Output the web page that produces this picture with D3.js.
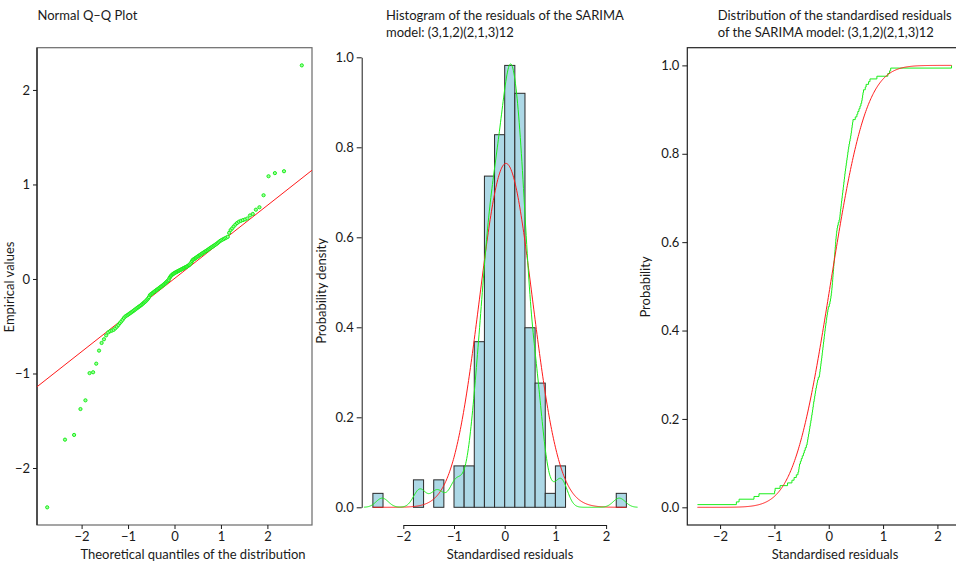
<!DOCTYPE html>
<html><head><meta charset="utf-8">
<script src="https://cdn.jsdelivr.net/npm/d3@7"></script>
<style>
body{margin:0;background:#fff}
text{font-family:Lato, "Liberation Sans", sans-serif;fill:#1a1a1a}
</style>
</head><body>
<svg id="chart" width="956" height="564"></svg>
<script>
// ---------- data ----------
// sorted standardised residuals of the SARIMA model (n = 163)
const residuals = [
-2.416,-1.700,-1.650,-1.376,-1.284,-0.996,-0.987,-0.896,-0.758,-0.677,-0.638,
-0.597,-0.566,-0.553,-0.546,-0.538,-0.522,-0.505,-0.487,-0.466,-0.450,-0.432,-0.412,
-0.398,-0.389,-0.381,-0.372,-0.363,-0.355,-0.347,-0.339,-0.330,-0.322,-0.314,-0.306,
-0.298,-0.291,-0.284,-0.277,-0.268,-0.260,-0.252,-0.244,-0.236,-0.226,-0.216,-0.206,
-0.192,-0.172,-0.165,-0.158,-0.152,-0.145,-0.139,-0.132,-0.126,-0.120,-0.114,-0.108,
-0.102,-0.096,-0.090,-0.084,-0.078,-0.072,-0.066,-0.060,-0.053,-0.046,-0.039,-0.032,-0.024,-0.016,-0.008,
0.010,0.022,0.032,0.040,0.047,0.053,0.058,0.063,0.067,0.071,0.075,0.079,0.083,0.087,0.091,0.095,
0.099,0.103,0.107,0.111,0.115,0.119,0.123,0.127,0.131,0.136,0.141,0.147,0.154,0.163,0.175,0.190,
0.202,0.207,0.212,0.218,0.224,0.230,0.236,0.242,0.248,0.254,0.260,0.266,0.272,0.278,0.284,
0.290,0.296,0.302,0.309,0.316,0.323,0.330,0.337,0.344,0.351,0.358,0.366,0.374,0.383,0.393,
0.403,0.410,0.417,0.424,0.431,0.438,0.446,0.488,0.518,0.535,0.556,0.575,0.592,
0.606,0.615,0.623,0.630,0.640,0.672,0.688,0.733,0.759,
0.886,1.087,1.120,1.140,2.260
];
// histogram: bins of width 0.2 starting at -2.6, probability density per bin
const histBinStart = -2.6;
const histBinWidth = 0.2;
const histDensity = [0.031,0,0,0,0.061,0,0.061,0,0.092,0.092,0.368,0.736,0.828,0.982,0.920,0.399,0.276,0.031,0.092,0,0,0,0,0,0.031];
// fitted normal distribution
const normalMean = 0.025;
const normalSd = 0.522;
// reference line of the Q-Q plot
const qqIntercept = 0.005;
const qqSlope = 0.387;
// kernel density bandwidth
const kdeBandwidth = 0.12;
// tick values
const qqXTicks = [-2,-1,0,1,2];
const qqYTicks = [-2,-1,0,1,2];
const histXTicks = [-2,-1,0,1,2];
const histYTicks = [0,0.2,0.4,0.6,0.8,1.0];
const ecdfXTicks = [-2,-1,0,1,2];
const ecdfYTicks = [0,0.2,0.4,0.6,0.8,1.0];
// texts
const titleQQ = ["Normal Q\u2013Q Plot"];
const titleHist = ["Histogram of the residuals of the SARIMA","model: (3,1,2)(2,1,3)12"];
const titleEcdf = ["Distribution of the standardised residuals","of the SARIMA model: (3,1,2)(2,1,3)12"];

// ---------- helpers ----------
function qnorm(p){
  const a=[-3.969683028665376e+01,2.209460984245205e+02,-2.759285104469687e+02,1.383577518672690e+02,-3.066479806614716e+01,2.506628277459239e+00];
  const b=[-5.447609879822406e+01,1.615858368580409e+02,-1.556989798598866e+02,6.680131188771972e+01,-1.328068155288572e+01];
  const c=[-7.784894002430293e-03,-3.223964580411365e-01,-2.400758277161838e+00,-2.549732539343734e+00,4.374664141464968e+00,2.938163982698783e+00];
  const d=[7.784695709041462e-03,3.224671290700398e-01,2.445134137142996e+00,3.754408661907416e+00];
  const pl=0.02425, ph=1-pl; let q,r;
  if(p<pl){q=Math.sqrt(-2*Math.log(p));return (((((c[0]*q+c[1])*q+c[2])*q+c[3])*q+c[4])*q+c[5])/((((d[0]*q+d[1])*q+d[2])*q+d[3])*q+1);}
  if(p>ph){q=Math.sqrt(-2*Math.log(1-p));return -(((((c[0]*q+c[1])*q+c[2])*q+c[3])*q+c[4])*q+c[5])/((((d[0]*q+d[1])*q+d[2])*q+d[3])*q+1);}
  q=p-0.5;r=q*q;
  return (((((a[0]*r+a[1])*r+a[2])*r+a[3])*r+a[4])*r+a[5])*q/(((((b[0]*r+b[1])*r+b[2])*r+b[3])*r+b[4])*r+1);
}
function erf(x){const s=Math.sign(x);x=Math.abs(x);const t=1/(1+0.3275911*x);
  const y=1-(((((1.061405429*t-1.453152027)*t)+1.421413741)*t-0.284496736)*t+0.254829592)*t*Math.exp(-x*x);return s*y;}
const dnorm=(x,m,s)=>Math.exp(-0.5*((x-m)/s)**2)/(s*Math.sqrt(2*Math.PI));
const pnorm=(x,m,s)=>0.5*(1+erf((x-m)/(s*Math.SQRT2)));

const n = residuals.length;
const sorted = residuals.slice().sort((a,b)=>a-b);
const lo = sorted[0], hi = sorted[n-1];

const svg = d3.select("#chart");
const GREEN = "#1aee1a", RED = "#ff1a1a";
const FS = "13px";
const fmtInt = d3.format("d"), fmt1 = d3.format(".1f");

function styleAxis(g){
  g.selectAll("text").style("font-family","Lato, 'Liberation Sans', sans-serif").style("font-size",FS).attr("fill","#1a1a1a");
  g.selectAll("line").attr("stroke","#1a1a1a");
  g.select(".domain").attr("stroke","#1a1a1a");
}
function title(lines, x){
  const t = svg.append("text").attr("x",x).attr("y",20).style("font-size",FS);
  lines.forEach((l,i)=>t.append("tspan").attr("x",x).attr("y",20+i*16.5).text(l));
}
function ylabel(txt, x, y){
  svg.append("text").attr("transform",`translate(${x},${y}) rotate(-90)`).attr("text-anchor","middle")
    .style("font-size",FS).text(txt);
}
function xlabel(txt, x, y){
  svg.append("text").attr("x",x).attr("y",y).attr("text-anchor","middle").style("font-size",FS).text(txt);
}

// ---------- panel 1: Q-Q plot ----------
{
  const theo = sorted.map((v,i)=>qnorm((i+0.5)/n));
  const x = d3.scaleLinear().domain([-2.96,2.96]).range([37,312]);
  const y = d3.scaleLinear().domain([-2.603,2.447]).range([525,47.7]);
  svg.append("rect").attr("x",37).attr("y",47.7).attr("width",275).attr("height",477.3)
    .attr("fill","none").attr("stroke","#6a6a6a").attr("stroke-width",1.2);
  const gy = svg.append("g").attr("transform","translate(37,0)")
    .call(d3.axisLeft(y).tickValues(qqYTicks).tickFormat(fmtInt).tickSize(4).tickSizeOuter(0).tickPadding(3));
  gy.select(".domain").remove(); styleAxis(gy);
  svg.append("line").attr("x1",37).attr("x2",37).attr("y1",47.7).attr("y2",525).attr("stroke","#222").attr("stroke-width",1.3);
  const gx = svg.append("g").attr("transform","translate(0,525)")
    .call(d3.axisBottom(x).tickValues(qqXTicks).tickFormat(fmtInt).tickSize(4).tickSizeOuter(0).tickPadding(3));
  gx.select(".domain").remove(); styleAxis(gx);
  const xd = x.domain();
  svg.append("line").attr("x1",x(xd[0])).attr("x2",x(xd[1]))
    .attr("y1",y(qqIntercept+qqSlope*xd[0])).attr("y2",y(qqIntercept+qqSlope*xd[1]))
    .attr("stroke",RED).attr("stroke-width",1);
  svg.append("g").selectAll("circle").data(sorted).join("circle")
    .attr("cx",(d,i)=>x(theo[i])).attr("cy",d=>y(d)).attr("r",1.6)
    .attr("fill","#9bff9b").attr("stroke",GREEN).attr("stroke-width",1);
  title(titleQQ, 37.5);
  ylabel("Empirical values", 14, 287);
  xlabel("Theoretical quantiles of the distribution", 193, 559);
}

// ---------- panel 2: histogram ----------
{
  const x = d3.scaleLinear().domain([-2,2]).range([403.3,606.1]);
  const y = d3.scaleLinear().domain([0,1]).range([507.3,57.3]);
  const bins = histDensity.map((d,i)=>({x0:histBinStart+i*histBinWidth, x1:histBinStart+(i+1)*histBinWidth, d}));
  svg.append("g").selectAll("rect").data(bins).join("rect")
    .attr("x",b=>x(b.x0)).attr("width",b=>x(b.x1)-x(b.x0))
    .attr("y",b=>y(b.d)).attr("height",b=>y(0)-y(b.d))
    .attr("fill","#add8e6").attr("stroke","#2a2a2a").attr("stroke-width",1);
  const xsN = d3.range(0,401).map(i=>histBinStart+i*(histBinWidth*histDensity.length)/400);
  svg.append("path").datum(xsN).attr("fill","none").attr("stroke",RED).attr("stroke-width",1)
    .attr("d",d3.line().x(v=>x(v)).y(v=>y(dnorm(v,normalMean,normalSd))));
  const k0 = lo-3*kdeBandwidth, k1 = hi+3*kdeBandwidth;
  const xsK = d3.range(0,512).map(i=>k0+i*(k1-k0)/511);
  const kde = v=>d3.sum(sorted,s=>dnorm(v,s,kdeBandwidth))/n;
  svg.append("path").datum(xsK).attr("fill","none").attr("stroke",GREEN).attr("stroke-width",1)
    .attr("d",d3.line().x(v=>x(v)).y(v=>y(kde(v))));
  const gy = svg.append("g").attr("transform","translate(361.7,0)")
    .call(d3.axisLeft(y).tickValues(histYTicks).tickFormat(fmt1).tickSize(5).tickSizeOuter(0).tickPadding(3));
  styleAxis(gy);
  const gx = svg.append("g").attr("transform","translate(0,525)")
    .call(d3.axisBottom(x).tickValues(histXTicks).tickFormat(fmtInt).tickSize(4).tickSizeOuter(0).tickPadding(3));
  styleAxis(gx);
  title(titleHist, 386);
  ylabel("Probability density", 326, 291);
  xlabel("Standardised residuals", 510, 559);
}

// ---------- panel 3: empirical vs normal CDF ----------
{
  const x = d3.scaleLinear().domain([-2.603,2.447]).range([687.3,961.7]);
  const y = d3.scaleLinear().domain([-0.04,1.04]).range([525,47.7]);
  svg.append("rect").attr("x",687.3).attr("y",47.7).attr("width",274.4).attr("height",477.3)
    .attr("fill","none").attr("stroke","#222").attr("stroke-width",1.2);
  const steps = sorted.map((v,i)=>[v,(i+1)/n]);
  svg.append("path").datum(steps).attr("fill","none").attr("stroke",GREEN).attr("stroke-width",1)
    .attr("d",d3.line().x(p=>x(p[0])).y(p=>y(p[1])).curve(d3.curveStepAfter));
  const xsC = d3.range(0,401).map(i=>lo+i*(hi-lo)/400);
  svg.append("path").datum(xsC).attr("fill","none").attr("stroke",RED).attr("stroke-width",1)
    .attr("d",d3.line().x(v=>x(v)).y(v=>y(pnorm(v,normalMean,normalSd))));
  const gy = svg.append("g").attr("transform","translate(687.3,0)")
    .call(d3.axisLeft(y).tickValues(ecdfYTicks).tickFormat(fmt1).tickSize(5).tickSizeOuter(0).tickPadding(3));
  gy.select(".domain").remove(); styleAxis(gy);
  const gx = svg.append("g").attr("transform","translate(0,525)")
    .call(d3.axisBottom(x).tickValues(ecdfXTicks).tickFormat(fmtInt).tickSize(4).tickSizeOuter(0).tickPadding(3));
  gx.select(".domain").remove(); styleAxis(gx);
  title(titleEcdf, 717.7);
  ylabel("Probability", 650, 287);
  xlabel("Standardised residuals", 835, 559);
}
</script>
</body></html>
